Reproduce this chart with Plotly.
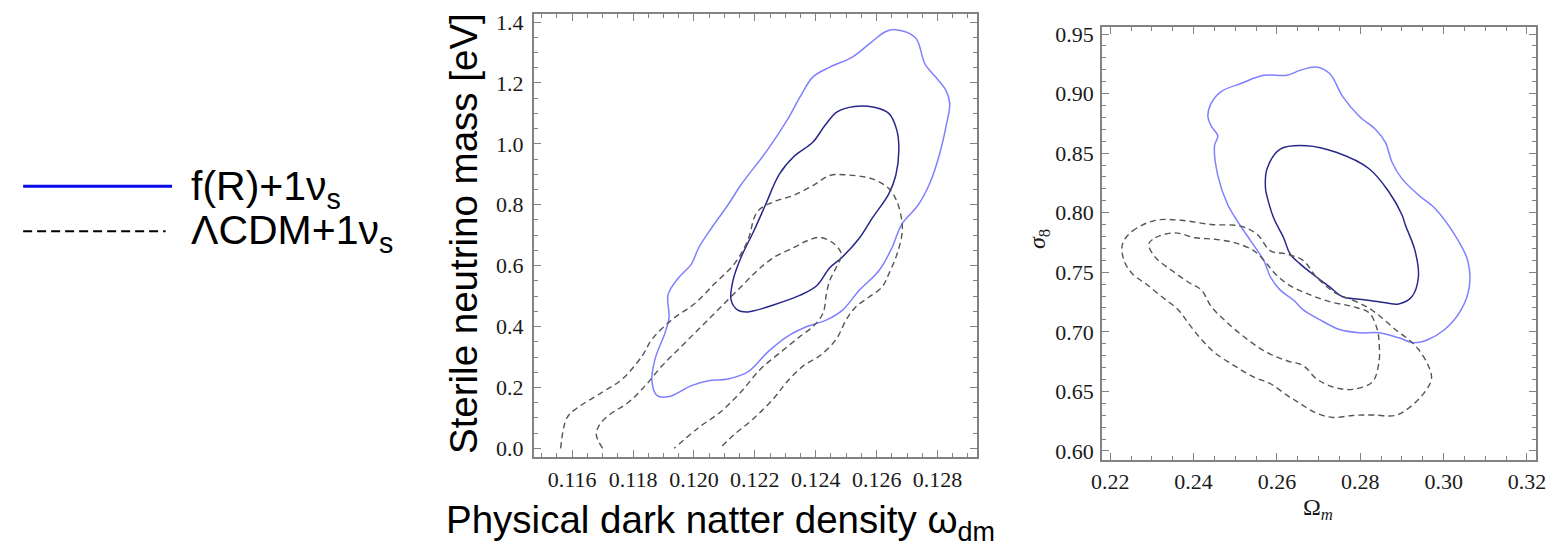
import plotly.graph_objects as go

# ---------------- Left panel: omega_dm vs sterile neutrino mass ----------------
fr_outer_wdm = [0.12662, 0.12727, 0.12759, 0.12796, 0.12828, 0.12840, 0.12828, 0.12808, 0.12776, 0.12737,
                0.12682, 0.12650, 0.12608, 0.12543, 0.12488, 0.12436, 0.12371, 0.12306, 0.12242, 0.12177,
                0.12112, 0.12047, 0.11992, 0.11918, 0.11879, 0.11862, 0.11872, 0.11905, 0.11918, 0.11915,
                0.11950, 0.11992, 0.12015, 0.12057, 0.12112, 0.12154, 0.12242, 0.12306, 0.12349, 0.12391,
                0.12446, 0.12520, 0.12585, 0.12630]
fr_outer_mnu = [1.375, 1.349, 1.262, 1.217, 1.175, 1.133, 1.058, 0.971, 0.874, 0.800,
                0.735, 0.658, 0.584, 0.519, 0.454, 0.422, 0.400, 0.367, 0.316, 0.251,
                0.228, 0.222, 0.206, 0.170, 0.173, 0.219, 0.293, 0.380, 0.430, 0.505,
                0.561, 0.606, 0.658, 0.723, 0.800, 0.865, 0.981, 1.078, 1.155, 1.220,
                1.252, 1.285, 1.336, 1.369]

fr_inner_wdm = [0.12527, 0.12592, 0.12640, 0.12666, 0.12673, 0.12663, 0.12640, 0.12585, 0.12543, 0.12485,
                0.12446, 0.12404, 0.12349, 0.12261, 0.12177, 0.12144, 0.12122, 0.12128, 0.12154, 0.12196,
                0.12235, 0.12280, 0.12330, 0.12390, 0.12430, 0.12470]
fr_inner_mnu = [1.123, 1.120, 1.100, 1.046, 0.981, 0.897, 0.836, 0.755, 0.690, 0.626,
                0.593, 0.535, 0.503, 0.471, 0.448, 0.454, 0.487, 0.551, 0.626, 0.713,
                0.800, 0.900, 0.960, 1.005, 1.060, 1.105]

lcdm_outer_wdm = [0.11562, 0.11582, 0.11614, 0.11700, 0.11765, 0.11830, 0.11862, 0.11927, 0.12003, 0.12068,
                  0.12132, 0.12176, 0.12208, 0.12262, 0.12327, 0.12392, 0.12446, 0.12500, 0.12586, 0.12640,
                  0.12667, 0.12683, 0.12683, 0.12667, 0.12640, 0.12618, 0.12575, 0.12532, 0.12500, 0.12467,
                  0.12413, 0.12359, 0.12305, 0.12262, 0.12197, 0.12132, 0.12085]
lcdm_outer_mnu = [0.000, 0.099, 0.131, 0.185, 0.228, 0.304, 0.358, 0.422, 0.476, 0.541,
                  0.605, 0.681, 0.777, 0.810, 0.831, 0.864, 0.896, 0.898, 0.885, 0.853,
                  0.810, 0.745, 0.702, 0.638, 0.573, 0.530, 0.497, 0.465, 0.422, 0.358,
                  0.304, 0.271, 0.218, 0.164, 0.099, 0.045, 0.000]

lcdm_inner_wdm = [0.11700, 0.11679, 0.11690, 0.11722, 0.11787, 0.11841, 0.11895, 0.11960, 0.12025, 0.12089,
                  0.12154, 0.12208, 0.12262, 0.12327, 0.12370, 0.12413, 0.12456, 0.12484, 0.12467, 0.12446,
                  0.12435, 0.12424, 0.12392, 0.12349, 0.12284, 0.12219, 0.12154, 0.12089, 0.12014, 0.11935]
lcdm_inner_mnu = [0.000, 0.045, 0.078, 0.110, 0.153, 0.207, 0.271, 0.336, 0.401, 0.465,
                  0.530, 0.584, 0.627, 0.659, 0.681, 0.693, 0.675, 0.638, 0.594, 0.551,
                  0.508, 0.444, 0.401, 0.368, 0.315, 0.261, 0.185, 0.121, 0.067, 0.000]

# ---------------- Right panel: Omega_m vs sigma_8 ----------------
fr_outer_om = [0.26947, 0.27264, 0.27579, 0.27974, 0.28367, 0.28604, 0.28762, 0.28999, 0.29394, 0.29787,
               0.30260, 0.30578, 0.30615, 0.30419, 0.30024, 0.29631, 0.29276, 0.28921, 0.28447, 0.27974,
               0.27501, 0.27027, 0.26632, 0.26395, 0.26080, 0.25844, 0.25685, 0.25370, 0.25053, 0.24817,
               0.24580, 0.24502, 0.24580, 0.24424, 0.24343, 0.24424, 0.24660, 0.25134, 0.25685, 0.26237,
               0.26554]
fr_outer_s8 = [0.9223, 0.9168, 0.8975, 0.8810, 0.8699, 0.8589, 0.8424, 0.8286, 0.8149, 0.8038,
               0.7818, 0.7598, 0.7377, 0.7184, 0.7019, 0.6936, 0.6909, 0.6950, 0.6992, 0.6992,
               0.7019, 0.7102, 0.7184, 0.7267, 0.7350, 0.7460, 0.7598, 0.7763, 0.7928, 0.8069,
               0.8314, 0.8562, 0.8645, 0.8727, 0.8810, 0.8920, 0.9017, 0.9085, 0.9154, 0.9154,
               0.9195]

fr_inner_om = [0.26710, 0.27420, 0.28211, 0.28684, 0.28999, 0.29077, 0.29314, 0.29394, 0.29236, 0.28921,
               0.28447, 0.27974, 0.27579, 0.27264, 0.26947, 0.26554, 0.26317, 0.26159, 0.25922, 0.25763,
               0.25725, 0.25763, 0.26080]
fr_inner_s8 = [0.8562, 0.8507, 0.8369, 0.8176, 0.7983, 0.7901, 0.7680, 0.7460, 0.7294, 0.7234,
               0.7253, 0.7273, 0.7294, 0.7377, 0.7460, 0.7570, 0.7653, 0.7790, 0.7955, 0.8135,
               0.8203, 0.8369, 0.8534]

lcdm_outer_om = [0.22293, 0.22530, 0.23082, 0.23714, 0.24424, 0.25134, 0.25527, 0.25844, 0.26237, 0.26632,
                 0.26947, 0.27420, 0.27815, 0.28211, 0.28525, 0.28840, 0.29157, 0.29394, 0.29631, 0.29709,
                 0.29550, 0.29157, 0.28840, 0.28289, 0.27815, 0.27342, 0.26947, 0.26554, 0.26237, 0.25844,
                 0.25449, 0.24975, 0.24502, 0.24187, 0.23870, 0.23633, 0.23240, 0.22845, 0.22530, 0.22331]
lcdm_outer_s8 = [0.7736, 0.7845, 0.7936, 0.7936, 0.7901, 0.7887, 0.7818, 0.7680, 0.7653, 0.7598,
                 0.7460, 0.7322, 0.7267, 0.7198, 0.7116, 0.7019, 0.6936, 0.6854, 0.6716, 0.6606,
                 0.6496, 0.6358, 0.6298, 0.6302, 0.6298, 0.6281, 0.6317, 0.6399, 0.6468, 0.6564,
                 0.6620, 0.6716, 0.6826, 0.6936, 0.7074, 0.7184, 0.7294, 0.7405, 0.7488, 0.7598]

lcdm_inner_om = [0.22923, 0.23082, 0.23555, 0.24028, 0.24502, 0.24975, 0.25449, 0.25763, 0.25922, 0.26237,
                 0.26710, 0.27264, 0.27815, 0.28211, 0.28407, 0.28454, 0.28447, 0.28289, 0.27815, 0.27342,
                 0.26947, 0.26632, 0.26237, 0.25763, 0.25290, 0.24817, 0.24424, 0.24187, 0.23870, 0.23477,
                 0.23082]
lcdm_inner_s8 = [0.7736, 0.7790, 0.7831, 0.7790, 0.7777, 0.7749, 0.7680, 0.7570, 0.7501, 0.7405,
                 0.7322, 0.7253, 0.7212, 0.7160, 0.7019, 0.6895, 0.6744, 0.6579, 0.6517, 0.6537,
                 0.6606, 0.6716, 0.6757, 0.6826, 0.6936, 0.7074, 0.7212, 0.7350, 0.7418, 0.7515,
                 0.7625]

left_xticks = [0.116, 0.118, 0.120, 0.122, 0.124, 0.126, 0.128]
left_yticks = [0.0, 0.2, 0.4, 0.6, 0.8, 1.0, 1.2, 1.4]
right_xticks = [0.22, 0.24, 0.26, 0.28, 0.30, 0.32]
right_yticks = [0.60, 0.65, 0.70, 0.75, 0.80, 0.85, 0.90, 0.95]

legend_labels = ["f(R)+1ν<sub>s</sub>", "ΛCDM+1ν<sub>s</sub>"]

C_OUT = "rgb(128,128,255)"
C_IN = "rgb(40,40,140)"
C_DASH = "rgb(85,85,85)"

fig = go.Figure()


def add(x, y, xa, ya, color, width, dash, close):
    xs, ys = list(x), list(y)
    if close:
        xs.append(xs[0])
        ys.append(ys[0])
    fig.add_trace(go.Scatter(x=xs, y=ys, xaxis=xa, yaxis=ya, mode="lines",
                             line=dict(color=color, width=width, dash=dash,
                                       shape="spline", smoothing=1.0),
                             showlegend=False, hoverinfo="skip"))


add(fr_outer_wdm, fr_outer_mnu, "x", "y", C_OUT, 1.5, "solid", True)
add(fr_inner_wdm, fr_inner_mnu, "x", "y", C_IN, 1.5, "solid", True)
add(lcdm_outer_wdm, lcdm_outer_mnu, "x", "y", C_DASH, 1.4, "6px,4px", False)
add(lcdm_inner_wdm, lcdm_inner_mnu, "x", "y", C_DASH, 1.4, "6px,4px", False)

add(fr_outer_om, fr_outer_s8, "x2", "y2", C_OUT, 1.5, "solid", True)
add(fr_inner_om, fr_inner_s8, "x2", "y2", C_IN, 1.5, "solid", True)
add(lcdm_outer_om, lcdm_outer_s8, "x2", "y2", C_DASH, 1.4, "6px,4px", True)
add(lcdm_inner_om, lcdm_inner_s8, "x2", "y2", C_DASH, 1.4, "6px,4px", True)

W, H = 1558, 551
FRAME = "rgb(130,130,130)"
TICKFONT = dict(family="Liberation Serif, Times New Roman, serif", size=22, color="#1a1a1a")


def axis(domain, rng, tickvals, fmt, minor_dtick, fsize, anchor, standoff):
    return dict(domain=domain, range=rng, anchor=anchor,
                tickmode="array", tickvals=tickvals, tickformat=fmt,
                ticks="inside", ticklen=7, tickwidth=1.2, tickcolor=FRAME,
                minor=dict(ticks="inside", ticklen=4, tickwidth=1, tickcolor=FRAME,
                           dtick=minor_dtick, tick0=tickvals[0], showgrid=False),
                showline=True, linecolor=FRAME, linewidth=2, mirror="ticks",
                showgrid=False, zeroline=False, ticklabelstandoff=standoff,
                tickfont=dict(TICKFONT, size=fsize))


fig.update_layout(
    width=W, height=H,
    margin=dict(l=0, r=0, t=0, b=0),
    paper_bgcolor="white", plot_bgcolor="white",
    showlegend=False,
    xaxis=axis([530 / W, 979.3 / W], [0.11474, 0.12930], left_xticks, ".3f", 0.0005, 22, "y", 1),
    yaxis=axis([1 - 460 / H, 1 - 9.3 / H], [-0.030, 1.426], left_yticks, ".1f", 0.05, 22, "x", 4),
    xaxis2=axis([1106 / W, 1546 / W], [0.21804, 0.3222], right_xticks, ".2f", 0.005, 22, "y2", 1),
    yaxis2=axis([1 - 462.3 / H, 1 - 22 / H], [0.5926, 0.9562], right_yticks, ".2f", 0.01, 22, "x2", 2),
)

SANS = "Liberation Sans, Arial, sans-serif"
SERIF = "Liberation Serif, Times New Roman, serif"

# legend (drawn manually, like the reference)
fig.add_shape(type="line", xref="paper", yref="paper",
              x0=12.3 / W, x1=163.3 / W, y0=1 - 184.3 / H, y1=1 - 184.3 / H,
              line=dict(color="rgb(10,10,235)", width=3))
fig.add_shape(type="line", xref="paper", yref="paper",
              x0=12.3 / W, x1=156.7 / W, y0=1 - 230 / H, y1=1 - 230 / H,
              line=dict(color="black", width=2, dash="9px,5px"))
fig.add_annotation(text=legend_labels[0], xref="paper", yref="paper", x=180 / W, y=1 - 187 / H,
                   xanchor="left", yanchor="middle", showarrow=False, height=44,
                   font=dict(family=SANS, size=41, color="black"))
fig.add_annotation(text=legend_labels[1], xref="paper", yref="paper", x=180 / W, y=1 - 232 / H,
                   xanchor="left", yanchor="middle", showarrow=False, height=44,
                   font=dict(family=SANS, size=41, color="black"))

# axis titles
fig.add_annotation(text="Sterile neutrino mass [eV]", xref="paper", yref="paper",
                   x=458 / W, y=1 - 232 / H, textangle=-90, xanchor="center", yanchor="middle",
                   showarrow=False, font=dict(family=SANS, size=38.5, color="black"))
fig.add_annotation(text="Physical dark natter density ω<sub>dm</sub>", xref="paper", yref="paper",
                   x=439 / W, y=1 - 526 / H, xanchor="left", yanchor="middle",
                   showarrow=False, font=dict(family=SANS, size=38.5, color="black"))
fig.add_annotation(text="<i>σ</i><sub>8</sub>", xref="paper", yref="paper",
                   x=1042 / W, y=1 - 238 / H, textangle=-90, xanchor="center", yanchor="middle",
                   showarrow=False, font=dict(family=SERIF, size=24, color="#1a1a1a"))
fig.add_annotation(text="Ω<sub><i>m</i></sub>", xref="paper", yref="paper",
                   x=1325 / W, y=1 - 512 / H, xanchor="center", yanchor="middle",
                   showarrow=False, font=dict(family=SERIF, size=24, color="#1a1a1a"))

fig.write_html("out.html")
